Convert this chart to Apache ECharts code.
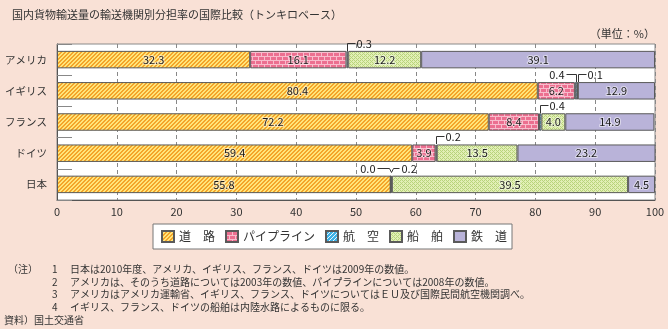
<!DOCTYPE html>
<html><head><meta charset="utf-8">
<script src="https://cdn.jsdelivr.net/npm/echarts@6/dist/echarts.min.js"></script>
<style>html,body{margin:0;padding:0;background:#f9e1d6;} #c{width:668px;height:329px;}</style>
</head><body><div id="c"></div>
<script>
const categories = ['アメリカ','イギリス','フランス','ドイツ','日本'];
const seriesNames = ['道　路','パイプライン','航　空','船　舶','鉄　道'];
const road     = [32.3, 80.4, 72.2, 59.4, 55.8];
const pipeline = [16.1,  6.2,  8.4,  3.9,  0.0];
const air      = [ 0.3,  0.4,  0.4,  0.2,  0.2];
const ship     = [12.2,  0.1,  4.0, 13.5, 39.5];
const rail     = [39.1, 12.9, 14.9, 23.2,  4.5];
const allSeries = [road, pipeline, air, ship, rail];
// small segments labelled with leader lines: [category index, series index, side, style]
const callouts = [
  [0, 2, 'right', 'elbow'],
  [1, 2, 'left',  'elbow'],
  [1, 3, 'right', 'elbow'],
  [2, 2, 'right', 'elbow'],
  [3, 2, 'right', 'elbow'],
  [4, 1, 'left',  'v'],
  [4, 2, 'right', 'v']
];
const notes = [
  ['（注）', '1', '日本は2010年度、アメリカ、イギリス、フランス、ドイツは2009年の数値。'],
  ['', '2', 'アメリカは、そのうち道路については2003年の数値、パイプラインについては2008年の数値。'],
  ['', '3', 'アメリカはアメリカ運輸省、イギリス、フランス、ドイツについてはＥＵ及び国際民間航空機関調べ。'],
  ['', '4', 'イギリス、フランス、ドイツの船舶は内陸水路によるものに限る。']
];
const sourceText = '資料）国土交通省';
const titleText = '国内貨物輸送量の輸送機関別分担率の国際比較（トンキロベース）';
const unitText = '（単位：%）';

const FONT = '"Noto Sans CJK JP", "Noto Sans", sans-serif';

function makePattern(w, h, fn) {
  const cv = document.createElement('canvas');
  cv.width = w; cv.height = h;
  const ctx = cv.getContext('2d');
  for (let y = 0; y < h; y++) for (let x = 0; x < w; x++) {
    ctx.fillStyle = fn(x, y);
    ctx.fillRect(x, y, 1, 1);
  }
  return {image: cv, repeat: 'repeat'};
}
const fills = [
  makePattern(4, 4, (x, y) => ((x + y) % 4 < 2) ? '#f4a42a' : '#ffe57a'),
  makePattern(6, 8, (x, y) => (y % 4 === 0) ? '#f8bccc' : ((y < 4 ? x === 0 : x === 3) ? '#f8bccc' : '#ec6f90')),
  makePattern(4, 4, (x, y) => ((x + y) % 4 === 0) ? '#e6f6ff' : '#3fb2e6'),
  makePattern(4, 4, (x, y) => (((x + y) % 4 === 0) || ((x - y + 4) % 4 === 2)) ? '#b8d47c' : '#e2efb5'),
  '#b9b3d9'
];

function cumMid(cat, s) {
  let sum = 0;
  for (let i = 0; i < s; i++) sum += allSeries[i][cat];
  return sum + allSeries[s][cat] / 2;
}

const chart = echarts.init(document.getElementById('c'), null, {renderer:'canvas'});
const barSeries = allSeries.map((d, i) => ({
  name: seriesNames[i], type: 'bar', stack: 'total', data: d, barWidth: '56%',
  itemStyle: {color: fills[i], borderColor: '#5a5a5a', borderWidth: 1},
  label: {show: true, position: 'inside', color: '#1a1a1a', fontSize: 11, fontFamily: FONT,
    textBorderColor: 'rgba(255,255,255,0.5)', textBorderWidth: 2,
    formatter: p => p.value >= 1 ? p.value.toFixed(1) : ''},
  emphasis: {disabled: true}
}));

const calloutSeries = {
  type: 'custom', z: 10, silent: true, clip: false,
  data: callouts.map(c => [cumMid(c[0], c[1]), c[0]]),
  encode: {x: 0, y: 1},
  renderItem: function (params, api) {
    const c = callouts[params.dataIndex];
    const p = api.coord([api.value(0), api.value(1)]);
    const band = api.size([0, 1])[1];
    const top = Math.round(p[1] - band * 0.28);
    const y = top - 8 + 0.5;
    const x = Math.round(p[0]) + 0.5;
    const text = allSeries[c[1]][c[0]].toFixed(1);
    let pts, tx, align;
    if (c[3] === 'v') {
      if (c[2] === 'left') { pts = [[x - 14, y], [x - 2, y], [x, y + 4]]; tx = x - 16; align = 'right'; }
      else { pts = [[x, y + 4], [x + 2, y], [x + 8, y]]; tx = x + 10; align = 'left'; }
    } else if (c[2] === 'left') { pts = [[x - 10, y], [x, y], [x, top]]; tx = x - 12; align = 'right'; }
    else { pts = [[x, top], [x, y], [x + 8, y]]; tx = x + 9; align = 'left'; }
    return {type: 'group', children: [
      {type: 'polyline', shape: {points: pts}, style: {stroke: '#333', lineWidth: 1, fill: null}},
      {type: 'text', x: tx, y: y, style: {text: text, align: align, verticalAlign: 'middle', fill: '#1a1a1a', font: '11px ' + FONT}}
    ]};
  }
};

const legendWidths = [54, 83, 53, 54, 36];
const graphics = [
  {type: 'text', right: 13, top: 28, style: {text: unitText, fill: '#333', font: '11px ' + FONT}}
];
notes.forEach((n, i) => {
  const y = 264 + i * 12.8;
  if (n[0]) graphics.push({type: 'text', left: 8, top: y, style: {text: n[0], fill: '#333', font: '10px ' + FONT}});
  graphics.push({type: 'text', left: 52, top: y, style: {text: n[1], fill: '#333', font: '10px ' + FONT}});
  graphics.push({type: 'text', left: 70, top: y, style: {text: n[2], fill: '#333', font: '10px ' + FONT}});
});
graphics.push({type: 'text', left: 4, top: 264 + 4 * 12.8, style: {text: sourceText, fill: '#333', font: '10px ' + FONT}});

chart.setOption({
  backgroundColor: '#f9e1d6',
  animation: false,
  textStyle: {fontFamily: FONT},
  title: {text: titleText, left: 7, top: 4, textStyle: {fontSize: 11, fontWeight: 'normal', color: '#333', fontFamily: FONT}},
  grid: {left: 57, right: 13, top: 44, height: 156, show: true, backgroundColor: '#fff', borderColor: '#8a8a8a', borderWidth: 1},
  legend: {
    left: 153, top: 224, orient: 'horizontal', itemWidth: 12, itemHeight: 11, itemGap: 10, icon: 'rect',
    padding: [6, 5, 6, 8], backgroundColor: '#fff', borderColor: '#777', borderWidth: 1, borderRadius: 0,
    selectedMode: false,
    textStyle: {fontSize: 12, color: '#333', fontFamily: FONT},
    data: seriesNames.map((n, i) => ({name: n, textStyle: {width: legendWidths[i]}}))
  },
  xAxis: {
    type: 'value', min: 0, max: 100, interval: 10,
    axisLine: {show: true, lineStyle: {color: '#555'}},
    axisTick: {show: false},
    axisLabel: {fontSize: 11, color: '#333', margin: 6, fontFamily: FONT},
    splitLine: {show: true, lineStyle: {color: '#888', type: [4, 3]}}
  },
  yAxis: {
    type: 'category', data: categories, inverse: true,
    axisLine: {show: true, lineStyle: {color: '#555'}},
    axisTick: {show: true, inside: true, length: 15, lineStyle: {color: '#888'}},
    axisLabel: {fontSize: 10.5, color: '#333', margin: 10, fontFamily: FONT},
    splitLine: {show: false}
  },
  graphic: graphics,
  series: barSeries.concat([calloutSeries])
});
</script></body></html>
